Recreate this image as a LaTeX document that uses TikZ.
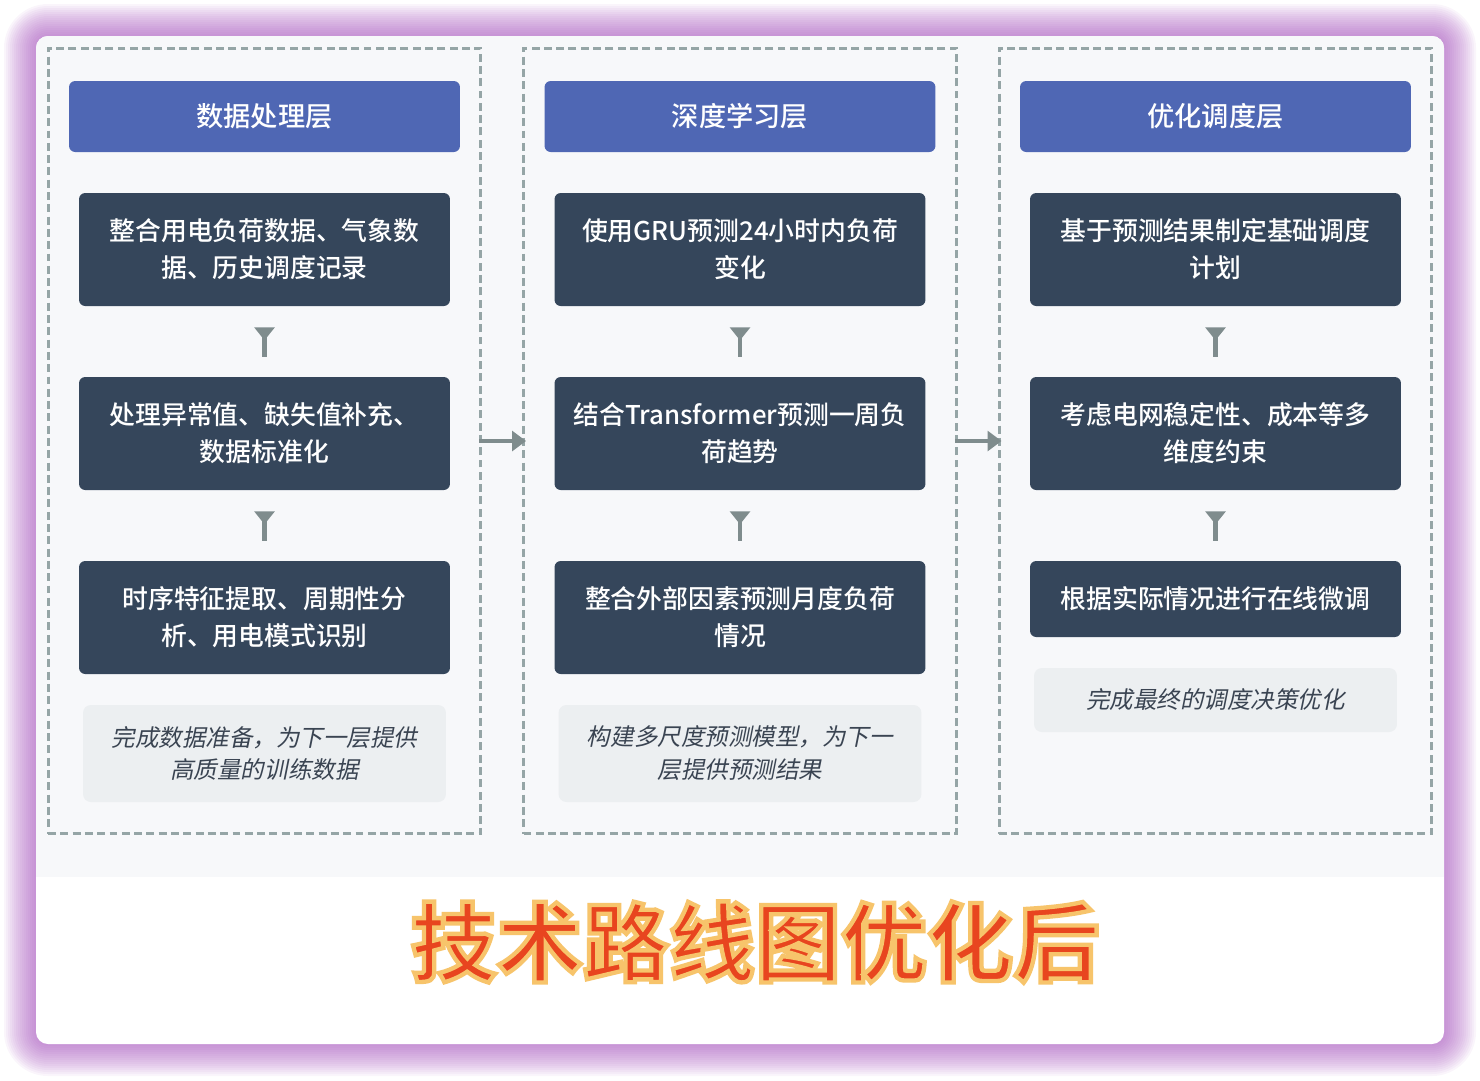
\documentclass[tikz,border=0pt]{standalone}
\usepackage{fontspec}
\setmainfont{Noto Sans CJK SC}
\newfontfamily\boxfont{Noto Sans CJK SC Medium}
\newfontfamily\notefont[FakeSlant=0.2]{Noto Sans CJK SC}
\newfontfamily\titlefont{Noto Sans CJK SC Bold}[RawFeature={embolden=5}]
\usetikzlibrary{arrows.meta}

\definecolor{headblue}{HTML}{4F67B4}
\definecolor{stepdark}{HTML}{35465B}
\definecolor{notegray}{HTML}{ECEFF1}
\definecolor{notetext}{HTML}{3A4452}
\definecolor{framegray}{HTML}{95A5A6}
\definecolor{flowgray}{HTML}{7F8C8D}
\definecolor{panelbg}{HTML}{F7F8FA}
\definecolor{glowpurple}{HTML}{A24DBA}

% red fill, light orange stroke round the title glyphs
\newcommand{\titleink}[1]{\special{pdf:bcolor [0.91 0.27 0.12] [0.97 0.77 0.42]}#1\special{pdf:ecolor}}

\begin{document}
\begin{tikzpicture}[x=0.02cm, y=-0.02cm,
	layerhead/.style={fill=headblue, text=white, rounded corners=3.5pt, minimum width=7.82cm, minimum height=1.42cm, font=\boxfont\fontsize{15.5pt}{19pt}\selectfont},
	stepbox/.style={fill=stepdark, text=white, rounded corners=3.5pt, minimum width=7.42cm, minimum height=2.26cm, align=center, font=\boxfont\fontsize{14.7pt}{21pt}\selectfont},
	notebox/.style={fill=notegray, text=notetext, rounded corners=4.5pt, minimum width=7.26cm, minimum height=1.94cm, align=center, font=\notefont\fontsize{13.4pt}{18.7pt}\selectfont},
	colframe/.style={draw=framegray, dash pattern=on 4.5pt off 2.5pt, line width=1.7pt, minimum width=8.66cm, minimum height=15.72cm},
	downflow/.style={draw=flowgray, line width=2.3pt, {Triangle[reversed, length=7.4pt, width=11.3pt]}-, shorten <=0.42cm, shorten >=0.4cm},
	layerflow/.style={draw=flowgray, line width=2.3pt, -{Triangle[length=8pt, width=11.3pt]}, shorten <=-0.06cm, shorten >=-0.08cm},
]
	\useasboundingbox (0,0) rectangle (1480,1080);
	%\draw[help lines] (0,0) grid[step=1cm] (1480,1080);
	% glow round the card
	\foreach \g [evaluate=\g as \rr using 0.24+0.04*\g] in {1,...,16}
		\fill[glowpurple, opacity=0.055, rounded corners=\rr cm] (36-2*\g,36-2*\g) rectangle (1444+2*\g,1044+2*\g);
	\fill[white, rounded corners=0.24cm] (36,36) rectangle (1444,1044);
	\begin{scope}
		\clip[rounded corners=0.24cm] (36,36) rectangle (1444,1044);
		\fill[panelbg] (36,36) rectangle (1444,877);
	\end{scope}

	% three layers
	\node[colframe] (col1) at (264.5,441) {};
	\node[colframe] (col2) at (740,441) {};
	\node[colframe] (col3) at (1215.5,441) {};

	\node[layerhead] (head1) at (264.5,116.5) {数据处理层};
	\node[stepbox] (data1) at (264.5,249.5) {整合用电负荷数据、气象数\\据、历史调度记录};
	\node[stepbox] (data2) at (264.5,433.5) {处理异常值、缺失值补充、\\数据标准化};
	\node[stepbox] (data3) at (264.5,617.5) {时序特征提取、周期性分\\析、用电模式识别};
	\node[notebox] (note1) at (264.5,753.5) {完成数据准备，为下一层提供\\高质量的训练数据};

	\node[layerhead] (head2) at (740,116.5) {深度学习层};
	\node[stepbox] (learn1) at (740,249.5) {使用GRU预测24小时内负荷\\变化};
	\node[stepbox] (learn2) at (740,433.5) {结合Transformer预测一周负\\荷趋势};
	\node[stepbox] (learn3) at (740,617.5) {整合外部因素预测月度负荷\\情况};
	\node[notebox] (note2) at (740,753.5) {构建多尺度预测模型，为下一\\层提供预测结果};

	\node[layerhead] (head3) at (1215.5,116.5) {优化调度层};
	\node[stepbox] (sched1) at (1215.5,249.5) {基于预测结果制定基础调度\\计划};
	\node[stepbox] (sched2) at (1215.5,433.5) {考虑电网稳定性、成本等多\\维度约束};
	\node[stepbox, minimum height=1.52cm] (sched3) at (1215.5,599) {根据实际情况进行在线微调};
	\node[notebox, minimum height=1.28cm] (note3) at (1215.5,700) {完成最终的调度决策优化};

	\draw[downflow] (data1) -- (data2);
	\draw[downflow] (data2) -- (data3);
	\draw[downflow] (learn1) -- (learn2);
	\draw[downflow] (learn2) -- (learn3);
	\draw[downflow] (sched1) -- (sched2);
	\draw[downflow] (sched2) -- (sched3);

	\draw[layerflow] (col1.east) -- (col2.west);
	\draw[layerflow] (col2.east) -- (col3.west);

	\node[font=\titlefont\fontsize{49pt}{57pt}\selectfont] (title) at (755,942) {\titleink{技术路线图优化后}};
\end{tikzpicture}
\end{document}
